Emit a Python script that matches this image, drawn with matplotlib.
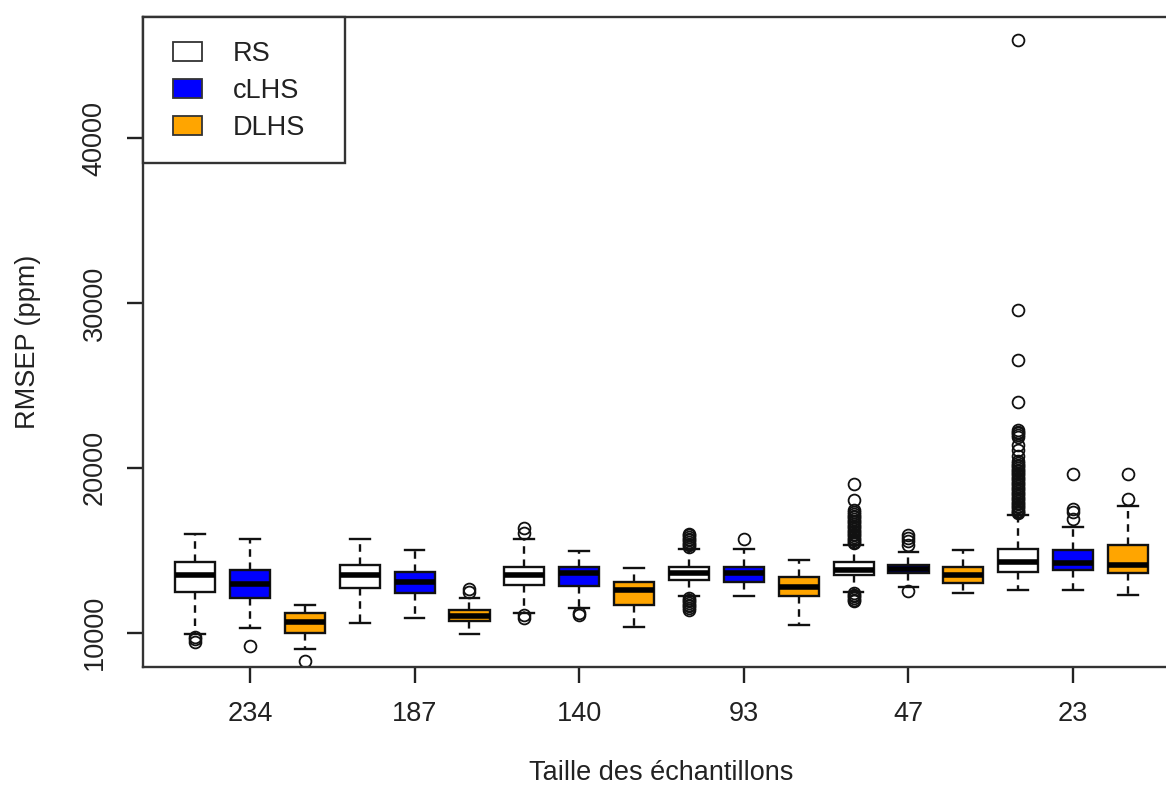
import matplotlib
matplotlib.use("Agg")
import matplotlib.pyplot as plt
from matplotlib.patches import Patch, Rectangle

plt.rcParams['font.family'] = ['Liberation Sans', 'DejaVu Sans']

# ---------------- data ----------------
sizes = ["234", "187", "140", "93", "47", "23"]
methods = ["RS", "cLHS", "DLHS"]
colors = {"RS": "#FFFFFF", "cLHS": "#0000FF", "DLHS": "#FFA500"}

# per group: [whislo, q1, med, q3, whishi]
rs_stats = [
    [9900, 12500, 13500, 14300, 16000],
    [10600, 12700, 13500, 14100, 15700],
    [11200, 12900, 13500, 14000, 15700],
    [12200, 13200, 13600, 14000, 15100],
    [12500, 13500, 13800, 14300, 15350],
    [12600, 13700, 14300, 15100, 17150],
]
clhs_stats = [
    [10300, 12100, 12950, 13800, 15700],
    [10900, 12400, 13050, 13700, 15000],
    [11500, 12850, 13600, 14000, 14950],
    [12200, 13100, 13600, 14000, 15100],
    [12800, 13600, 13850, 14100, 14900],
    [12600, 13800, 14250, 15000, 16400],
]
dlhs_stats = [
    [9000, 10000, 10650, 11200, 11700],
    [9900, 10700, 11000, 11400, 12100],
    [10350, 11700, 12600, 13100, 13900],
    [10450, 12200, 12800, 13400, 14400],
    [12400, 13000, 13500, 14000, 15000],
    [12300, 13600, 14100, 15300, 17700],
]

rs_fliers = [
    [9750, 9600, 9450],
    [],
    [16050, 16350, 11050, 10900],
    [15200, 15300, 15400, 15500, 15600, 15700, 15800, 15900, 16000,
     12100, 12000, 11900, 11800, 11700, 11600, 11500, 11400],
    [19000, 18050, 17450, 17300, 17200, 17100, 17000, 16900, 16800, 16700,
     16600, 16500, 16400, 16300, 16200, 16100, 16000, 15900, 15800, 15700,
     15600, 15500, 15450,
     12400, 12300, 12200, 12100, 12000, 11950],
    [45950, 29600, 26550, 24000, 22300, 22200, 22100, 22000, 21900, 21400,
     21100, 20700, 20400, 20300, 20200, 20100, 20000, 19900, 19800, 19700,
     19600, 19500, 19400, 19300, 19200, 19100, 19000, 18900, 18800, 18700,
     18600, 18500, 18400, 18300, 18200, 18100, 18000, 17900, 17800, 17700,
     17600, 17500, 17400, 17300, 17250],
]
clhs_fliers = [
    [9200],
    [],
    [11200, 11050],
    [15700],
    [15300, 15550, 15750, 15900, 12550],
    [16900, 17300, 17500, 19600],
]
dlhs_fliers = [
    [8300],
    [12450, 12650],
    [],
    [],
    [],
    [18100, 19600],
]

y_ticks = [10000, 20000, 30000, 40000]

# ---------------- figure ----------------
W, H = 1166, 790
fig = plt.figure(figsize=(W / 100, H / 100), dpi=100)
ax_l, ax_r, ax_t, ax_b = 143, 1179, 17, 667
ax = fig.add_axes([ax_l / W, 1 - ax_b / H, (ax_r - ax_l) / W, (ax_b - ax_t) / H])

stats_by_method = {"RS": (rs_stats, rs_fliers),
                   "cLHS": (clhs_stats, clhs_fliers),
                   "DLHS": (dlhs_stats, dlhs_fliers)}

bxp_list, positions, facecols = [], [], []
pos = 1
for g in range(len(sizes)):
    for m in methods:
        st, fl = stats_by_method[m]
        lo, q1, med, q3, hi = st[g]
        bxp_list.append(dict(whislo=lo, q1=q1, med=med, q3=q3, whishi=hi,
                             fliers=fl[g], label=m))
        positions.append(pos)
        facecols.append(colors[m])
        pos += 1

lw = 1.7
res = ax.bxp(bxp_list, positions=positions, widths=0.73, capwidths=0.36,
             patch_artist=True, showfliers=True,
             boxprops=dict(linewidth=lw, edgecolor="#111111"),
             medianprops=dict(color="black", linewidth=4.0, solid_capstyle="butt"),
             whiskerprops=dict(color="#111111", linewidth=lw, linestyle=(0, (3.2, 2.4))),
             capprops=dict(color="#111111", linewidth=lw),
             flierprops=dict(marker="o", markerfacecolor="none",
                             markeredgecolor="#111111", markersize=8.5,
                             markeredgewidth=1.3))
for patch, c in zip(res["boxes"], facecols):
    patch.set_facecolor(c)

ax.set_xlim(0.05, 18.93)
ax.set_ylim(7919, 47360)

mid_positions = [positions[3 * g + 1] for g in range(len(sizes))]
ax.set_xticks(mid_positions)
ax.set_xticklabels(sizes)
ax.set_yticks(y_ticks)
ax.set_yticklabels([str(v) for v in y_ticks], rotation=90, va="center")

ax.tick_params(axis="both", direction="out", length=11.5, width=lw,
               labelsize=19.5, colors="#222222", labelcolor="#222222")
ax.tick_params(axis="x", pad=13)
ax.tick_params(axis="y", pad=14)

for s in ["left", "bottom", "top", "right"]:
    ax.spines[s].set_linewidth(lw)
    ax.spines[s].set_color("#333333")

ax.set_xlabel("Taille des échantillons", fontsize=19.5, color="#222222")
ax.set_ylabel("RMSEP (ppm)", fontsize=19.5, color="#222222")
ax.xaxis.set_label_coords(0.5, (ax_b - 760) / (ax_b - ax_t))
ax.yaxis.set_label_coords((41 - ax_l) / (ax_r - ax_l), 0.5)

# legend frame (drawn separately for exact geometry)
fr_w = (345 - ax_l) / (ax_r - ax_l)
fr_h = (163 - ax_t) / (ax_b - ax_t)
frame = Rectangle((0, 1 - fr_h), fr_w, fr_h, transform=ax.transAxes,
                  facecolor="white", edgecolor="#333333", linewidth=lw,
                  zorder=5, clip_on=False)
ax.add_patch(frame)

handles = [Patch(facecolor=colors[m], edgecolor="#333333", linewidth=1.3, label=m)
           for m in methods]
leg = ax.legend(handles=handles, loc="upper left",
                bbox_to_anchor=((173 - ax_l) / (ax_r - ax_l), 1 - (41 - ax_t) / (ax_b - ax_t)),
                borderaxespad=0, borderpad=0, frameon=False, fontsize=19.5,
                handlelength=1.07, handleheight=0.7, handletextpad=1.15,
                labelspacing=0.4, labelcolor="#222222")
leg.set_zorder(6)

fig.savefig("out.png", dpi=100)
